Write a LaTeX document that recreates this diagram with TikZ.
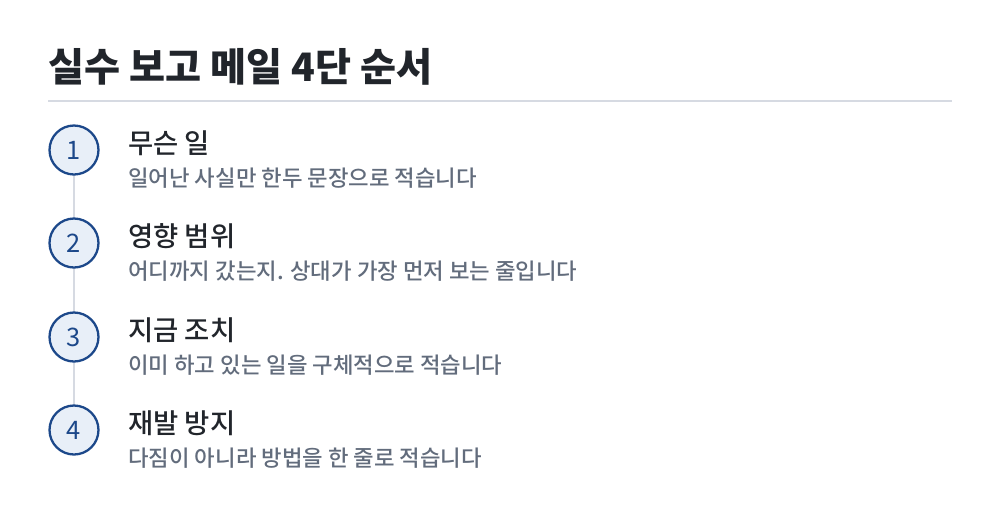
\documentclass[tikz,border=0pt]{standalone}
\usepackage{fontspec}
\setmainfont{Noto Sans CJK KR}
\newfontfamily\medfont{Noto Sans CJK KR Medium}
\definecolor{inkdark}{RGB}{33,37,43}
\definecolor{inkgray}{RGB}{98,108,124}
\definecolor{stepblue}{RGB}{28,72,138}
\definecolor{stepfill}{RGB}{232,239,248}
\definecolor{rulegray}{RGB}{214,218,226}

\begin{document}
\begin{tikzpicture}[x=0.02cm,y=-0.02cm,
    stepcircle/.style={circle,draw=stepblue,fill=stepfill,line width=1.3pt,
      minimum size=0.98cm,inner sep=0pt,text=stepblue,font=\fontsize{14.5}{14}\selectfont},
    headtext/.style={anchor=base west,inner sep=0pt,text=inkdark,font=\medfont\fontsize{15.6}{18}\selectfont},
    subtext/.style={anchor=base west,inner sep=0pt,text=inkgray,font=\medfont\fontsize{12.7}{15}\selectfont}]
            \useasboundingbox (0,0) rectangle (1000,522);
            \node[anchor=base west,inner sep=0pt,text=inkdark,font=\fontsize{22.3}{26}\selectfont\bfseries] (title) at (48,81){실수 보고 메일 4단 순서};
            \coordinate (ruleL) at (48,101);
            \coordinate (ruleR) at (952,101);
            \draw[rulegray,line width=1.2pt] (ruleL) -- (ruleR);
            % steps
            \foreach \n/\y/\head/\sub in {1/150/무슨 일/일어난 사실만 한두 문장으로 적습니다,
                                          2/243/영향 범위/어디까지 갔는지. 상대가 가장 먼저 보는 줄입니다,
                                          3/337/지금 조치/이미 하고 있는 일을 구체적으로 적습니다,
                                          4/430/재발 방지/다짐이 아니라 방법을 한 줄로 적습니다}{
                \node[headtext] (head\n) at (128,\y+3){\head};
                \node[subtext] (sub\n) at (128,\y+36){\sub};
            }
            \draw[rulegray,line width=1.7pt] (74,150) coordinate (top) -- (74,430) coordinate (bottom);
            \foreach \n/\y in {1/150,2/243,3/337,4/430}
                \node[stepcircle] (c\n) at (74,\y){\n};

        \end{tikzpicture}
\end{document}
